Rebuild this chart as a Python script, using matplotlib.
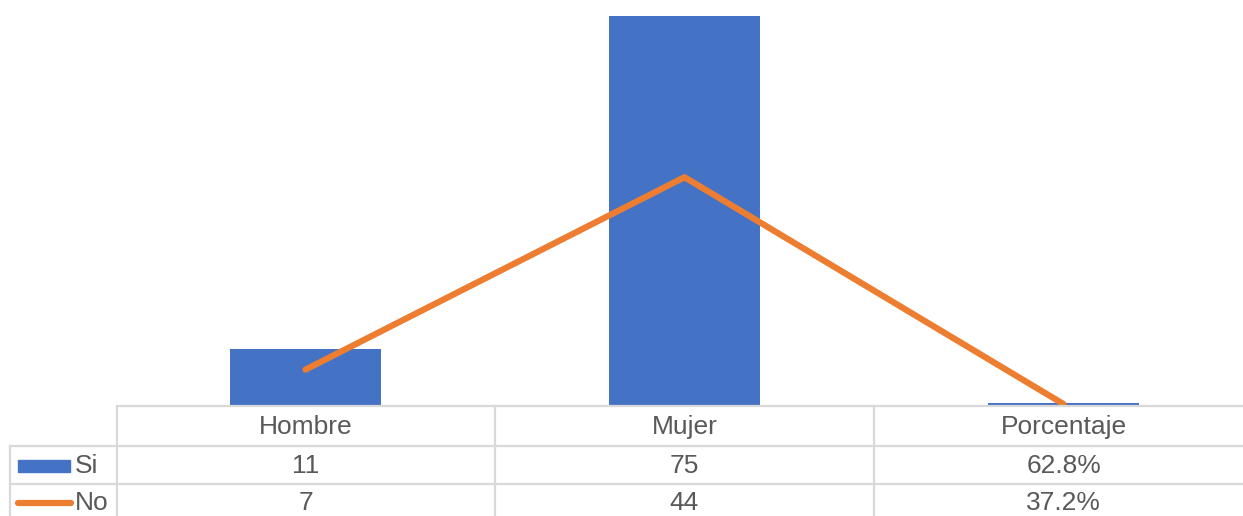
import matplotlib
matplotlib.use("Agg")
import matplotlib.pyplot as plt
import matplotlib.transforms as mtransforms
from matplotlib.patches import Rectangle
from matplotlib.lines import Line2D

categories = ["Hombre", "Mujer", "Porcentaje"]
si_values = [11, 75, 0.628]
no_values = [7, 44, 0.372]
si_labels = ["11", "75", "62.8%"]
no_labels = ["7", "44", "37.2%"]
series_names = ["Si", "No"]

blue = "#4472C4"
orange = "#ED7D31"
grid_gray = "#D9D9D9"
text_gray = "#595959"

plt.rcParams["font.family"] = ["Liberation Sans", "DejaVu Sans"]

W, H = 1243, 516
fig = plt.figure(figsize=(W / 100, H / 100), dpi=100)

# plot area in pixels (runs a little past the right edge, as in the crop)
left_px, right_px, base_px = 116, 1253, 406
ax = fig.add_axes([left_px / W, (H - base_px) / H, (right_px - left_px) / W, base_px / H])
x = list(range(len(categories)))
ax.bar(x, si_values, width=0.40, color=blue, zorder=2)
ax.plot(x, no_values, color=orange, lw=4.5, solid_capstyle="round",
        solid_joinstyle="round", zorder=3)
ax.set_xlim(-0.5, len(categories) - 0.5)
ax.set_ylim(0, base_px / 5.2)
ax.axis("off")

# data table below the plot, in figure pixels
def fy(py):
    return (H - py) / H

def fx(px):
    return px / W

row_lines = [406, 446, 484]
col_lines = [117, 495, 874]
lw = 1.6

fig.add_artist(Line2D([fx(117), 1], [fy(406), fy(406)], color=grid_gray, lw=lw))
for yy in row_lines[1:]:
    fig.add_artist(Line2D([fx(10), 1], [fy(yy), fy(yy)], color=grid_gray, lw=lw))
fig.add_artist(Line2D([fx(10), fx(10)], [fy(446), 0], color=grid_gray, lw=lw))
for cx in col_lines:
    fig.add_artist(Line2D([fx(cx), fx(cx)], [fy(406), 0], color=grid_gray, lw=lw))

trans = mtransforms.blended_transform_factory(ax.transData, fig.transFigure)
fs = 19
for i, cat in enumerate(categories):
    fig.text(i, fy(427), cat, transform=trans, ha="center", va="center",
             fontsize=fs, color=text_gray)
    fig.text(i, fy(466), si_labels[i], transform=trans, ha="center", va="center",
             fontsize=fs, color=text_gray)
    fig.text(i, fy(503), no_labels[i], transform=trans, ha="center", va="center",
             fontsize=fs, color=text_gray)

# legend keys
fig.add_artist(Rectangle((fx(18), fy(472)), fx(70) - fx(18), fy(460) - fy(472),
                         color=blue, transform=fig.transFigure))
fig.add_artist(Line2D([fx(18), fx(71)], [fy(503), fy(503)], color=orange, lw=4.5,
                      solid_capstyle="round"))
fig.text(fx(75), fy(466), series_names[0], ha="left", va="center", fontsize=fs, color=text_gray)
fig.text(fx(75), fy(503), series_names[1], ha="left", va="center", fontsize=fs, color=text_gray)

fig.savefig("out.png", dpi=100, facecolor="white")
